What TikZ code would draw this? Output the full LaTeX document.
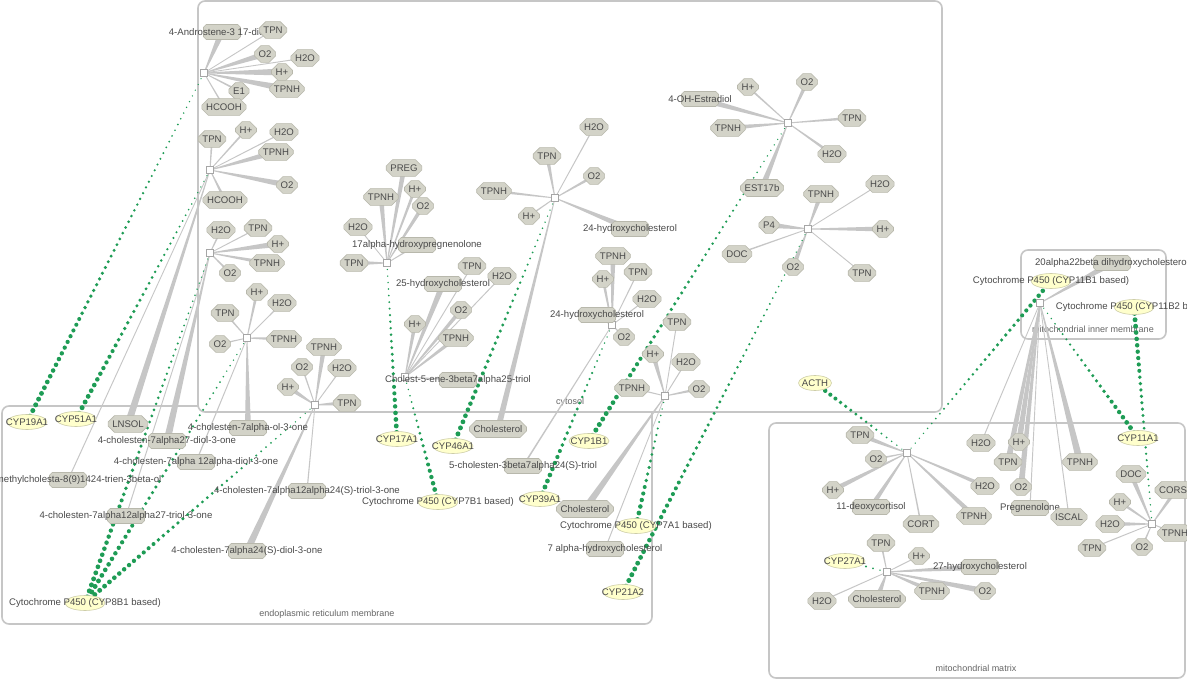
\documentclass[tikz,border=0pt]{standalone}
\usepackage{fontspec}
\setmainfont{Liberation Sans}
\usetikzlibrary{calc,shapes.geometric,shapes.misc}
\definecolor{Line}{HTML}{C6C6C6}
\definecolor{Species}{HTML}{D3D3C8}
\definecolor{SpeciesRim}{HTML}{B8B8AC}
\definecolor{Enzyme}{HTML}{FFFFCC}
\definecolor{EnzymeRim}{HTML}{CDCDA8}
\definecolor{Modifier}{HTML}{1E9C55}
\definecolor{Ink}{HTML}{4A4A4A}
\definecolor{Frame}{HTML}{C6C6C6}
\definecolor{RxnRim}{HTML}{A6A6A6}
\pgfdeclarelayer{back}
\pgfsetlayers{back,main}

% grey spokes of a reaction, widening towards the species
\newcommand\spokes[2]{%
  \foreach \n/\w in {#2}
    \fill[Line] ($(#1)!0.4pt!90:(\n)$) -- ($(\n)!\w pt!-90:(#1)$)
      -- ($(\n)!\w pt!90:(#1)$) -- ($(#1)!0.4pt!-90:(\n)$) -- cycle;
}
% green dots from an enzyme to its reaction, getting smaller
\newcommand\modlink[3]{%
  \pgfpointdiff{\pgfpointanchor{#1}{center}}{\pgfpointanchor{#2}{center}}%
  \pgfgetlastxy{\mlx}{\mly}%
  \pgfmathtruncatemacro\mln{max(3,veclen(\mlx,\mly)/6.4)}%
  \foreach \i in {0,...,\mln}{%
    \pgfmathsetmacro\mlt{\i/\mln}%
    \pgfmathsetmacro\mlr{#3-(#3-0.6)*\mlt}%
    \fill[Modifier] ($(#1)!\mlt!(#2)$) circle (\mlr pt);
  }%
}

\begin{document}
\begin{tikzpicture}[x=1pt,y=-1pt,font=\fontsize{9.6}{11}\selectfont,
    sp/.style={chamfered rectangle,chamfered rectangle xsep=3pt,
      draw=SpeciesRim,fill=Species,text=Ink,line width=0.6pt,
      inner xsep=1.2pt,inner ysep=1.5pt,minimum height=15pt},
    spw/.style={sp,minimum width=37pt},
    enz/.style={ellipse,draw=EnzymeRim,fill=Enzyme,line width=0.6pt,
      inner sep=0pt,minimum width=40pt,minimum height=15pt},
    tag/.style={text=Ink,inner sep=0pt},
    rxn/.style={draw=RxnRim,fill=white,line width=0.6pt,inner sep=0pt,minimum size=6.5pt},
    frame/.style={draw=Frame,fill=white,line width=1.6pt,rounded corners=7pt},
    place/.style={text=Ink!85,font=\fontsize{9}{10}\selectfont}]
  \useasboundingbox (0,0) rectangle (1187,682);

  % compartments
  \begin{pgfonlayer}{back}
    \fill[white] (0,0) rectangle (1187,682);
    \draw[frame] (2,406) rectangle (652,624);
    \draw[frame] (198,1) rectangle (942,412);
    \draw[frame] (769,423) rectangle (1185,678);
    \draw[frame] (1021,250) rectangle (1166,339);
    \node[place] (er) at (327,614) {endoplasmic reticulum membrane};
    \node[place] (cyt) at (570,402) {cytosol};
    \node[place] (mim) at (1093,329) {mitochondrial inner membrane};
    \node[place] (mm) at (976,668) {mitochondrial matrix};
  \end{pgfonlayer}

  % reaction squares
  \foreach \r/\x/\y in {r1/204/73,r2/210/170,r3/210/253,r4/247/338,r5/315/405,
      r6/387/263,r7/405/377,r8/555/198,r9/612/325,r10/788/123,r11/808/229,
      r12/665/396,r13/907/453,r14/1040/303,r15/1152/524,r16/887/572}
    \node[rxn] (\r) at (\x,\y) {};

  % androstenedione -> estrone
  \node[spw,label={[tag]center:4-Androstene-3 17-dione}] (andro) at (222,32) {};
  \node[sp] (tpnA) at (273,30) {TPN};
  \node[sp] (o2A) at (265,54) {O2};
  \node[sp] (h2oA) at (305,58) {H2O};
  \node[sp] (hpA) at (282,72) {H+};
  \node[sp] (tpnhA) at (287,89) {TPNH};
  \node[sp] (e1A) at (239,91) {E1};
  \node[sp] (hcoohA) at (224,107) {HCOOH};

  % lanosterol
  \node[sp] (tpnB) at (212,139) {TPN};
  \node[sp] (hpB) at (246,130) {H+};
  \node[sp] (h2oB) at (284,132) {H2O};
  \node[sp] (tpnhB) at (276,152) {TPNH};
  \node[sp] (o2B) at (287,185) {O2};
  \node[sp] (hcoohB) at (225,200) {HCOOH};
  \node[sp] (lnsol) at (128,424) {LNSOL};
  \node[spw,label={[tag]center:44-dimethylcholesta-8(9)1424-trien-3beta-ol}] (dimeth) at (68,480) {};

  % CYP8B1 steps
  \node[sp] (h2oC) at (221,230) {H2O};
  \node[sp] (tpnC) at (258,228) {TPN};
  \node[sp] (hpC) at (278,244) {H+};
  \node[sp] (tpnhC) at (267,263) {TPNH};
  \node[sp] (o2C) at (230,273) {O2};
  \node[spw,label={[tag]center:4-cholesten-7alpha27-diol-3-one}] (diol27) at (167,441) {};
  \node[spw,label={[tag]center:4-cholesten-7alpha12alpha27-triol-3-one}] (triol27) at (126,516) {};

  \node[sp] (hpD) at (257,292) {H+};
  \node[sp] (h2oD) at (282,303) {H2O};
  \node[sp] (tpnD) at (225,313) {TPN};
  \node[sp] (tpnhD) at (284,339) {TPNH};
  \node[sp] (o2D) at (220,344) {O2};
  \node[spw,label={[tag]center:4-cholesten-7alpha-ol-3-one}] (ol7) at (248,428) {};
  \node[spw,label={[tag]center:4-cholesten-7alpha 12alpha-diol-3-one}] (diol12) at (196,462) {};

  \node[sp] (o2E) at (302,367) {O2};
  \node[sp] (tpnhE) at (324,347) {TPNH};
  \node[sp] (h2oE) at (342,368) {H2O};
  \node[sp] (hpE) at (288,387) {H+};
  \node[sp] (tpnE) at (347,403) {TPN};
  \node[spw,label={[tag]center:4-cholesten-7alpha24(S)-diol-3-one}] (diol24) at (247,551) {};
  \node[spw,label={[tag]center:4-cholesten-7alpha12alpha24(S)-triol-3-one}] (triol24) at (307,491) {};

  % pregnenolone hydroxylation
  \node[sp] (preg) at (404,168) {PREG};
  \node[sp] (tpnhF) at (381,197) {TPNH};
  \node[sp] (hpF) at (415,189) {H+};
  \node[sp] (o2F) at (423,206) {O2};
  \node[sp] (h2oF) at (358,227) {H2O};
  \node[spw,label={[tag]center:17alpha-hydroxypregnenolone}] (ohpreg) at (417,245) {};
  \node[sp] (tpnF) at (354,263) {TPN};

  % 25-hydroxycholesterol
  \node[spw,label={[tag]center:25-hydroxycholesterol}] (oh25) at (443,284) {};
  \node[sp] (tpnG) at (472,266) {TPN};
  \node[sp] (h2oG) at (502,276) {H2O};
  \node[sp] (o2G) at (461,310) {O2};
  \node[sp] (hpG) at (415,324) {H+};
  \node[sp] (tpnhG) at (456,338) {TPNH};
  \node[spw,label={[tag]center:Cholest-5-ene-3beta7alpha25-triol}] (triol25) at (458,380) {};

  % cholesterol 24-hydroxylation
  \node[sp] (h2oH) at (594,127) {H2O};
  \node[sp] (tpnH) at (547,156) {TPN};
  \node[sp] (o2H) at (594,176) {O2};
  \node[sp] (tpnhH) at (494,191) {TPNH};
  \node[sp] (hpH) at (529,216) {H+};
  \node[spw,label={[tag]center:24-hydroxycholesterol}] (oh24a) at (630,229) {};
  \node[sp] (cholH) at (498,429) {Cholesterol};

  \node[sp] (tpnhI) at (613,256) {TPNH};
  \node[sp] (hpI) at (603,279) {H+};
  \node[sp] (tpnI) at (638,272) {TPN};
  \node[sp] (h2oI) at (647,299) {H2O};
  \node[spw,label={[tag]center:24-hydroxycholesterol}] (oh24b) at (597,315) {};
  \node[sp] (o2I) at (624,337) {O2};
  \node[spw,label={[tag]center:5-cholesten-3beta7alpha24(S)-triol}] (triol24s) at (523,466) {};

  % estradiol
  \node[sp] (hpJ) at (748,87) {H+};
  \node[sp] (o2J) at (807,82) {O2};
  \node[spw,label={[tag]center:4-OH-Estradiol}] (ohestr) at (700,99) {};
  \node[sp] (tpnJ) at (852,118) {TPN};
  \node[sp] (tpnhJ) at (728,128) {TPNH};
  \node[sp] (h2oJ) at (832,154) {H2O};
  \node[sp] (est17b) at (762,188) {EST17b};

  % progesterone 21-hydroxylation
  \node[sp] (tpnhK) at (821,194) {TPNH};
  \node[sp] (h2oK) at (880,184) {H2O};
  \node[sp] (p4) at (769,225) {P4};
  \node[sp] (hpK) at (883,229) {H+};
  \node[sp] (docK) at (737,254) {DOC};
  \node[sp] (o2K) at (793,267) {O2};
  \node[sp] (tpnK) at (862,273) {TPN};

  % cholesterol 7alpha-hydroxylation
  \node[sp] (tpnL) at (677,322) {TPN};
  \node[sp] (hpL) at (653,354) {H+};
  \node[sp] (h2oL) at (686,362) {H2O};
  \node[sp] (tpnhL) at (632,388) {TPNH};
  \node[sp] (o2L) at (699,389) {O2};
  \node[sp] (cholL) at (585,509) {Cholesterol};
  \node[spw,label={[tag]center:7 alpha-hydroxycholesterol}] (oh7) at (605,549) {};

  % enzymes, cytosol and ER
  \node[enz,label={[tag]center:CYP19A1}] (cyp19a1) at (27,422) {};
  \node[enz,label={[tag]center:CYP51A1}] (cyp51a1) at (76,419) {};
  \node[enz,label={[tag]center:Cytochrome P450 (CYP8B1 based)}] (cyp8b1) at (85,603) {};
  \node[enz,label={[tag]center:CYP17A1}] (cyp17a1) at (397,439) {};
  \node[enz,label={[tag]center:CYP46A1}] (cyp46a1) at (453,446) {};
  \node[enz,label={[tag]center:Cytochrome P450 (CYP7B1 based)}] (cyp7b1) at (438,502) {};
  \node[enz,label={[tag]center:CYP39A1}] (cyp39a1) at (540,499) {};
  \node[enz,label={[tag]center:CYP1B1}] (cyp1b1) at (589,441) {};
  \node[enz,label={[tag]center:Cytochrome P450 (CYP7A1 based)}] (cyp7a1) at (636,526) {};
  \node[enz,label={[tag]center:CYP21A2}] (cyp21a2) at (623,592) {};
  \node[enz,minimum width=33pt,label={[tag]center:ACTH}] (acth) at (815,383) {};

  % mitochondria
  \node[sp] (tpnM) at (860,435) {TPN};
  \node[sp] (o2M) at (876,459) {O2};
  \node[sp] (hpM) at (833,490) {H+};
  \node[spw,label={[tag]center:11-deoxycortisol}] (deoxy) at (871,507) {};
  \node[sp] (cortM) at (921,524) {CORT};
  \node[sp] (tpnhM) at (974,516) {TPNH};
  \node[sp] (h2oM) at (985,486) {H2O};

  \node[spw,label={[tag]center:20alpha22beta dihydroxycholesterol}] (dihyd) at (1112,263) {};
  \node[sp] (h2oN) at (981,443) {H2O};
  \node[sp] (hpN) at (1019,442) {H+};
  \node[sp] (tpnN) at (1008,462) {TPN};
  \node[sp] (o2N) at (1021,487) {O2};
  \node[spw,label={[tag]center:Pregnenolone}] (pregn) at (1030,508) {};
  \node[sp] (iscal) at (1069,517) {ISCAL};
  \node[sp] (tpnhN) at (1080,462) {TPNH};

  \node[sp] (docO) at (1131,474) {DOC};
  \node[sp] (corst) at (1176,490) {CORST};
  \node[sp] (hpO) at (1120,502) {H+};
  \node[sp] (h2oO) at (1110,524) {H2O};
  \node[sp] (tpnhO) at (1175,533) {TPNH};
  \node[sp] (tpnO) at (1092,548) {TPN};
  \node[sp] (o2O) at (1142,547) {O2};

  \node[sp] (tpnP) at (881,543) {TPN};
  \node[sp] (hpP) at (919,556) {H+};
  \node[spw,label={[tag]center:27-hydroxycholesterol}] (oh27) at (980,567) {};
  \node[sp] (tpnhP) at (932,591) {TPNH};
  \node[sp] (o2P) at (985,591) {O2};
  \node[sp] (h2oP) at (822,601) {H2O};
  \node[sp] (cholP) at (877,599) {Cholesterol};

  \node[enz,label={[tag]center:Cytochrome P450 (CYP11B1 based)}] (cyp11b1) at (1051,281) {};
  \node[enz,label={[tag]center:Cytochrome P450 (CYP11B2 based)}] (cyp11b2) at (1134,307) {};
  \node[enz,label={[tag]center:CYP11A1}] (cyp11a1) at (1138,438) {};
  \node[enz,label={[tag]center:CYP27A1}] (cyp27a1) at (845,561) {};

  % connectors
  \begin{pgfonlayer}{back}
    \spokes{r1}{andro/3.2,o2A/3,hpA/3.5,tpnhA/3.5,tpnA/0.5,h2oA/0.5,e1A/1,hcoohA/0.8}
    \spokes{r2}{lnsol/3.5,tpnhB/3,o2B/3,hpB/1,tpnB/1,h2oB/0.6,hcoohB/1.5,dimeth/0.5}
    \spokes{r3}{diol27/3.5,hpC/3,tpnhC/2,o2C/1.2,h2oC/1,tpnC/0.6,triol27/0.5}
    \spokes{r4}{ol7/3,hpD/1.5,tpnhD/2,tpnD/1,o2D/0.8,h2oD/0.6,diol12/0.6}
    \spokes{r5}{diol24/3.5,tpnhE/2.5,hpE/2.5,tpnE/2.5,o2E/0.8,h2oE/0.6,triol24/0.6}
    \spokes{r6}{preg/2.5,tpnhF/2.5,hpF/1.5,o2F/2,tpnF/2.5,h2oF/0.5,ohpreg/0.8}
    \spokes{r7}{oh25/3,o2G/2,hpG/2,tpnhG/2,tpnG/0.5,h2oG/0.5,triol25/0.8}
    \spokes{r8}{cholH/3,oh24a/3,tpnH/2,o2H/1.5,tpnhH/1.5,hpH/0.8,h2oH/0.6}
    \spokes{r9}{oh24b/2.5,tpnhI/2.5,hpI/1.5,tpnI/0.6,h2oI/0.6,o2I/0.8,triol24s/0.8}
    \spokes{r10}{est17b/3,ohestr/3,tpnhJ/2.5,o2J/2,tpnJ/1.5,h2oJ/1.5,hpJ/1}
    \spokes{r11}{p4/3,tpnhK/2.5,hpK/2.5,o2K/2.5,h2oK/0.5,docK/0.8,tpnK/0.5}
    \spokes{r12}{cholL/3.5,hpL/2.5,o2L/1.5,tpnL/0.5,h2oL/0.6,tpnhL/0.8,oh7/0.5}
    \spokes{r13}{deoxy/2.5,tpnM/2.5,hpM/2.5,tpnhM/2.5,h2oM/2,o2M/1,cortM/0.8}
    \spokes{r14}{dihyd/3,tpnhN/3.5,hpN/3,tpnN/3,o2N/3,h2oN/0.5,pregn/0.5,iscal/0.5}
    \spokes{r15}{docO/2.5,h2oO/2.5,corst/2,hpO/1.5,o2O/1,tpnhO/0.8,tpnO/0.6}
    \spokes{r16}{cholP/3,oh27/3,o2P/3,tpnhP/2.5,tpnP/1,hpP/0.6,h2oP/0.6}

    \modlink{cyp19a1}{r1}{2.6}
    \modlink{cyp51a1}{r2}{2.6}
    \modlink{cyp8b1}{r3}{2.6}
    \modlink{cyp8b1}{r4}{2.6}
    \modlink{cyp8b1}{r5}{2.6}
    \modlink{cyp17a1}{r6}{2.6}
    \modlink{cyp7b1}{r7}{2.6}
    \modlink{cyp46a1}{r8}{2.6}
    \modlink{cyp39a1}{r9}{2.6}
    \modlink{cyp1b1}{r10}{2.6}
    \modlink{cyp21a2}{r11}{2.6}
    \modlink{cyp7a1}{r12}{2.6}
    \modlink{acth}{r13}{2.4}
    \modlink{cyp11b1}{r13}{2.4}
    \modlink{cyp11a1}{r14}{2.6}
    \modlink{cyp11b2}{r15}{2.6}
    \modlink{cyp27a1}{r16}{1.6}
  \end{pgfonlayer}
\end{tikzpicture}
\end{document}
